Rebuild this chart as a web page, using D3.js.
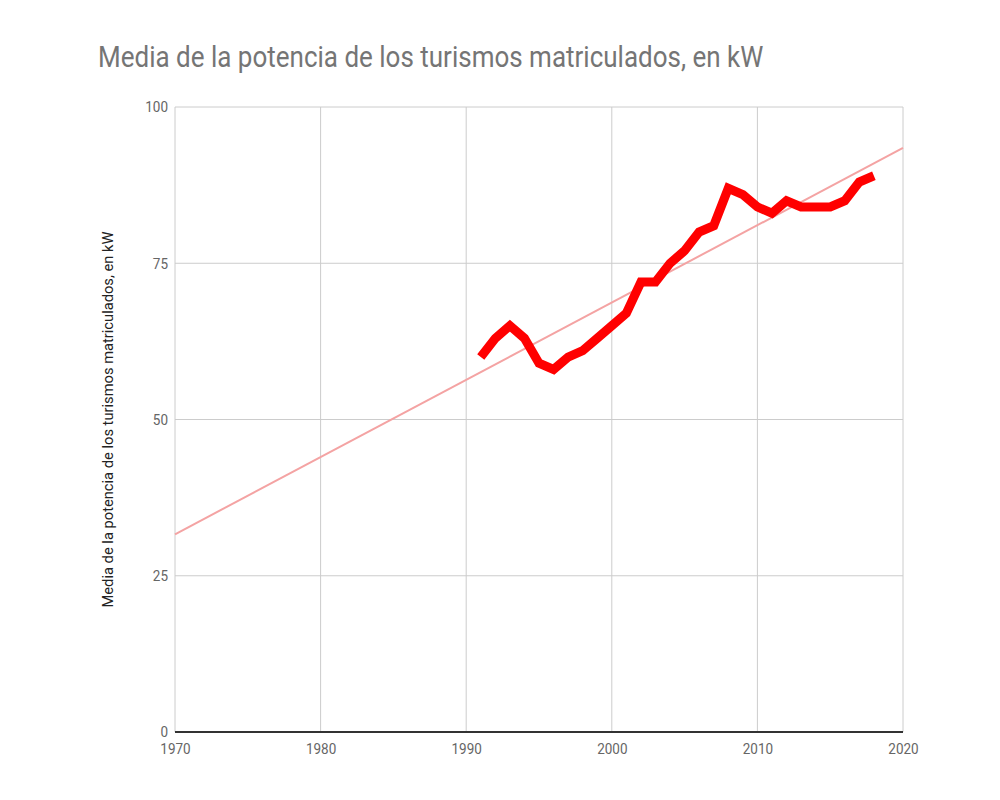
<!DOCTYPE html>
<html>
<head>
<meta charset="utf-8">
<script src="https://cdn.jsdelivr.net/npm/d3@7"></script>
<style>
  html, body { margin: 0; padding: 0; background: #fff; }
  svg { display: block; font-family: Roboto, "Noto Sans", sans-serif; }
</style>
</head>
<body>
<svg id="chart" width="1000" height="800"></svg>
<script>
const chartTitle = "Media de la potencia de los turismos matriculados, en kW";
const yAxisTitle = "Media de la potencia de los turismos matriculados, en kW";
const years = [1991,1992,1993,1994,1995,1996,1997,1998,1999,2000,2001,2002,2003,2004,2005,2006,2007,2008,2009,2010,2011,2012,2013,2014,2015,2016,2017,2018];
const power = [60,63,65,63,59,58,60,61,63,65,67,72,72,75,77,80,81,87,86,84,83,85,84,84,84,85,88,89];
const xTicks = [1970,1980,1990,2000,2010,2020];
const yTicks = [0,25,50,75,100];

const svg = d3.select("#chart");
const margin = {left: 175, right: 97, top: 107, bottom: 68};
const W = 1000, H = 800;

const x = d3.scaleLinear().domain([1970, 2020]).range([margin.left, W - margin.right]);
const y = d3.scaleLinear().domain([0, 100]).range([H - margin.bottom, margin.top]);

// title
svg.append("text").attr("transform", "translate(98,67) scale(1,1.12)")
  .attr("font-size", 26).attr("fill", "#757575").text(chartTitle);

// gridlines
svg.append("g").selectAll("line").data(yTicks.filter(d => d !== 0)).join("line")
  .attr("x1", x(1970)).attr("x2", x(2020))
  .attr("y1", d => y(d)).attr("y2", d => y(d))
  .attr("stroke", "#cccccc").attr("stroke-width", 1);
svg.append("g").selectAll("line").data(xTicks).join("line")
  .attr("x1", d => x(d)).attr("x2", d => x(d))
  .attr("y1", y(0)).attr("y2", y(100))
  .attr("stroke", "#cccccc").attr("stroke-width", 1);

// y axis labels
const yAxis = d3.axisLeft(y).tickValues(yTicks).tickSize(0).tickPadding(7);
const gy = svg.append("g").attr("transform", `translate(${x(1970)},0)`).call(yAxis);
gy.select(".domain").remove();
gy.selectAll("text").attr("font-size", 13.5).attr("fill", "#666")
  .attr("font-family", "Roboto, sans-serif").attr("transform", "scale(1,1.12)");

// x axis labels
const xAxis = d3.axisBottom(x).tickValues(xTicks).tickFormat(d3.format("d")).tickSize(0).tickPadding(10);
const gx = svg.append("g").attr("transform", `translate(0,${y(0)})`).call(xAxis);
gx.select(".domain").remove();
gx.selectAll("text").attr("font-size", 13.5).attr("fill", "#666")
  .attr("font-family", "Roboto, sans-serif").attr("transform", "scale(1,1.12)");

// baseline
svg.append("line").attr("x1", x(1970)).attr("x2", x(2020))
  .attr("y1", y(0)).attr("y2", y(0))
  .attr("stroke", "#333").attr("stroke-width", 2);

// y axis title
svg.append("text")
  .attr("transform", `translate(113,${(y(0) + y(100)) / 2}) rotate(-90)`)
  .attr("text-anchor", "middle").attr("font-size", 14.7).attr("fill", "#222")
  .text(yAxisTitle);

// linear trendline (least squares)
const mx = d3.mean(years), my = d3.mean(power);
const slope = d3.sum(years.map((yr, i) => (yr - mx) * (power[i] - my))) / d3.sum(years.map(yr => (yr - mx) ** 2));
const intercept = my - slope * mx;
const trendX = x.domain();
svg.append("line")
  .attr("x1", x(trendX[0])).attr("y1", y(intercept + slope * trendX[0]))
  .attr("x2", x(trendX[1])).attr("y2", y(intercept + slope * trendX[1]))
  .attr("stroke", "#f4a3a3").attr("stroke-width", 2);

// data line
const line = d3.line().x((d, i) => x(years[i])).y(d => y(d));
svg.append("path").datum(power)
  .attr("d", line).attr("fill", "none")
  .attr("stroke", "#ff0000").attr("stroke-width", 9)
  .attr("stroke-linejoin", "miter").attr("stroke-linecap", "butt");
</script>
</body>
</html>
